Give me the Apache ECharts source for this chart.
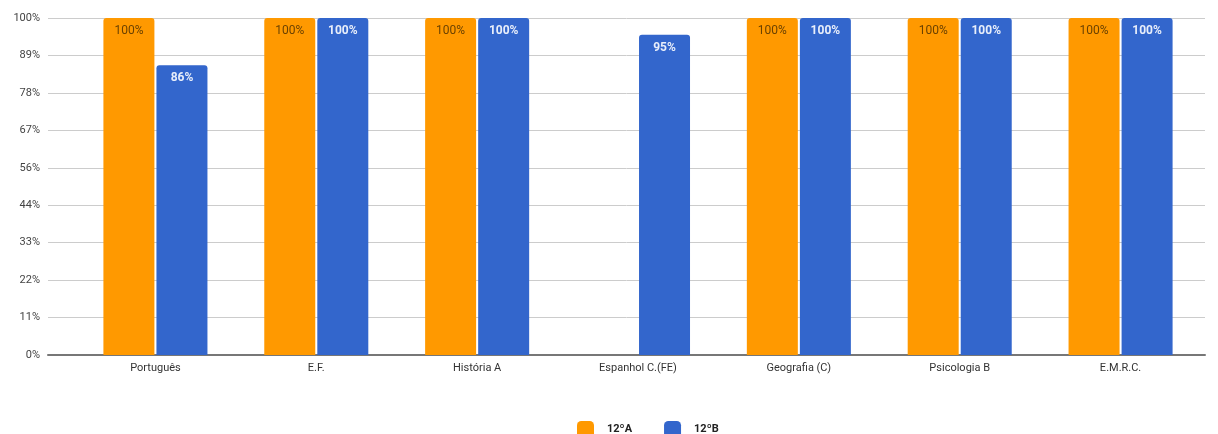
<!DOCTYPE html>
<html>
<head>
<meta charset="utf-8">
<script src="https://cdn.jsdelivr.net/npm/echarts@6/dist/echarts.min.js"></script>
<style>
  html, body { margin: 0; padding: 0; background: #fff; }
  #chart { width: 1218px; height: 434px; }
</style>
</head>
<body>
<div id="chart"></div>
<script>
const categories = ['Português', 'E.F.', 'História A', 'Espanhol C.(FE)', 'Geografia (C)', 'Psicologia B', 'E.M.R.C.']
const serieA = [100, 100, 100, null, 100, 100, 100]
const serieB = [86, 100, 100, 95, 100, 100, 100]
const yTickLabels = ['0%', '11%', '22%', '33%', '44%', '56%', '67%', '78%', '89%', '100%']

const chart = echarts.init(document.getElementById('chart'))
const font = 'Roboto, Arial, sans-serif'

chart.setOption({
  animation: false,
  textStyle: { fontFamily: font },
  legend: {
    top: 416,
    left: 572,
    itemWidth: 17,
    itemHeight: 17,
    itemGap: 32,
    icon: 'roundRect',
    textStyle: { fontSize: 11, color: '#222', fontWeight: 'bold', padding: [0, 0, 0, 8] },
    data: ['12ºA', '12ºB']
  },
  grid: [
    { left: 48, right: 13, top: 18, bottom: 79 },
    { left: 75, right: 17, top: 18, bottom: 79 }
  ],
  xAxis: [{
    gridIndex: 0,
    type: 'value',
    min: 0,
    max: 1,
    axisLine: { show: true, onZero: false, lineStyle: { color: '#777', width: 2 } },
    axisTick: { show: false },
    axisLabel: { show: false },
    splitLine: { show: false }
  }, {
    gridIndex: 1,
    type: 'category',
    data: categories,
    axisLine: { show: false },
    axisTick: { show: false },
    axisLabel: { fontSize: 11, color: '#333', margin: 8 }
  }],
  yAxis: [{
    gridIndex: 0,
    type: 'value',
    min: 0,
    max: 100,
    interval: 100 / 9,
    axisLine: { show: false },
    axisTick: { show: false },
    axisLabel: {
      fontSize: 11,
      color: '#444',
      margin: 8,
      formatter: (v, i) => yTickLabels[i]
    },
    splitLine: { lineStyle: { color: '#ccc', width: 1 } }
  }, {
    gridIndex: 1,
    type: 'value',
    min: 0,
    max: 100,
    show: false,
    splitLine: { show: false }
  }],
  series: [{
    name: '12ºA',
    type: 'bar',
    xAxisIndex: 1,
    yAxisIndex: 1,
    data: serieA,
    barWidth: 51,
    barGap: '4%',
    itemStyle: { color: '#ff9900', borderRadius: [3, 3, 0, 0] },
    label: {
      show: true,
      position: 'insideTop',
      distance: 7,
      fontSize: 12,
      color: '#6b4200',
      formatter: p => p.value + '%'
    }
  }, {
    name: '12ºB',
    type: 'bar',
    xAxisIndex: 1,
    yAxisIndex: 1,
    data: serieB,
    barWidth: 51,
    itemStyle: { color: '#3366cc', borderRadius: [3, 3, 0, 0] },
    label: {
      show: true,
      position: 'insideTop',
      distance: 7,
      fontSize: 12,
      fontWeight: 'bold',
      color: '#e8eefa',
      formatter: p => p.value + '%'
    }
  }]
})
</script>
</body>
</html>
